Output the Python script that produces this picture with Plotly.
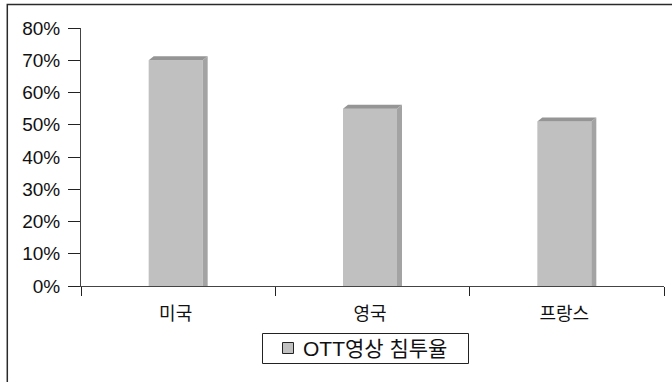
import plotly.graph_objects as go

categories = ["미국", "영국", "프랑스"]
values = [70, 55, 51]
series_name = "OTT영상 침투율"
y_ticks = [0, 10, 20, 30, 40, 50, 60, 70, 80]

FONT = "Liberation Sans, Noto Sans CJK KR, sans-serif"
W, H = 672, 382
ML, MR, MT, MB = 81, 8, 28, 96
PW = W - ML - MR
PH = H - MT - MB

n = len(categories)
px_per_cat = PW / n
px_per_pct = PH / 80.0
front_w = 54 / px_per_cat
dx = 5 / px_per_cat
dy = 4 / px_per_pct

FRONT = "#c0c0c0"
TOP = "#959595"
SIDE = "#a3a3a3"


def px_x(p):
    return (p - ML) / PW


def px_y(p):
    return (H - MB - p) / PH


xs = [i - dx / 2 for i in range(n)]

fig = go.Figure()
fig.add_trace(go.Bar(
    x=xs, y=values, width=front_w, name=series_name,
    marker=dict(color=FRONT, line=dict(width=0)),
    showlegend=False, hoverinfo="skip",
))

shapes = []
for x, v in zip(xs, values):
    xl = x - front_w / 2
    xr = x + front_w / 2
    shapes.append(dict(
        type="path", xref="x", yref="y",
        path=f"M{xl},{v} L{xr},{v} L{xr+dx},{v+dy} L{xl+dx},{v+dy} Z",
        fillcolor=TOP, line=dict(width=0), layer="above",
    ))
    shapes.append(dict(
        type="path", xref="x", yref="y",
        path=f"M{xr},0 L{xr},{v} L{xr+dx},{v+dy} L{xr+dx},0 Z",
        fillcolor=SIDE, line=dict(width=0), layer="above",
    ))

# outer frame (top and left visible)
shapes.append(dict(
    type="rect", xref="paper", yref="paper",
    x0=px_x(7.3), x1=1.5, y0=-1.0, y1=px_y(4.5),
    line=dict(color="#2a2a2a", width=1.5), fillcolor="rgba(0,0,0,0)",
    layer="above",
))
# legend box
shapes.append(dict(
    type="rect", xref="paper", yref="paper",
    x0=px_x(262.5), x1=px_x(468.5), y0=px_y(363.5), y1=px_y(333.5),
    line=dict(color="#222222", width=1), fillcolor="white", layer="above",
))
# legend icon
shapes.append(dict(
    type="rect", xref="paper", yref="paper",
    x0=px_x(282.5), x1=px_x(293.5), y0=px_y(353.5), y1=px_y(342.5),
    line=dict(color="#222222", width=1), fillcolor=FRONT, layer="above",
))

annotations = [dict(
    xref="paper", yref="paper", x=px_x(301), y=px_y(348.5),
    xanchor="left", yanchor="middle", showarrow=False,
    text=series_name, font=dict(family=FONT, size=21, color="#111111"),
)]

fig.update_layout(
    width=W, height=H,
    margin=dict(l=ML, r=MR, t=MT, b=MB),
    paper_bgcolor="white", plot_bgcolor="white",
    barmode="overlay",
    shapes=shapes,
    annotations=annotations,
    font=dict(family=FONT, size=18, color="#111111"),
    showlegend=False,
    xaxis=dict(
        range=[-0.5, n - 0.5],
        tickmode="array",
        tickvals=xs,
        ticktext=categories,
        ticks="", showgrid=False, zeroline=False,
        showline=True, linecolor="#444444", linewidth=1,
        ticklabelstandoff=11,
        tickfont=dict(family=FONT, size=18, color="#111111"),
        fixedrange=True,
    ),
    xaxis2=dict(
        overlaying="x", range=[-0.5, n - 0.5],
        tickmode="array", tickvals=[i - 0.5 for i in range(n + 1)],
        ticks="outside", ticklen=9, tickcolor="#222222", tickwidth=1,
        showticklabels=False, showgrid=False, zeroline=False,
        showline=False,
    ),
    yaxis=dict(
        range=[0, 80],
        tickmode="array", tickvals=y_ticks,
        ticktext=[f"{t}%" for t in y_ticks],
        ticks="outside", ticklen=12, tickcolor="#222222", tickwidth=1,
        showgrid=False, zeroline=False,
        showline=True, linecolor="#444444", linewidth=1,
        ticklabelstandoff=4,
        tickfont=dict(family=FONT, size=19, color="#111111"),
        fixedrange=True,
    ),
)
fig.add_trace(go.Scatter(x=[None], y=[None], xaxis="x2", showlegend=False, hoverinfo="skip"))

fig.write_html("out.html")
